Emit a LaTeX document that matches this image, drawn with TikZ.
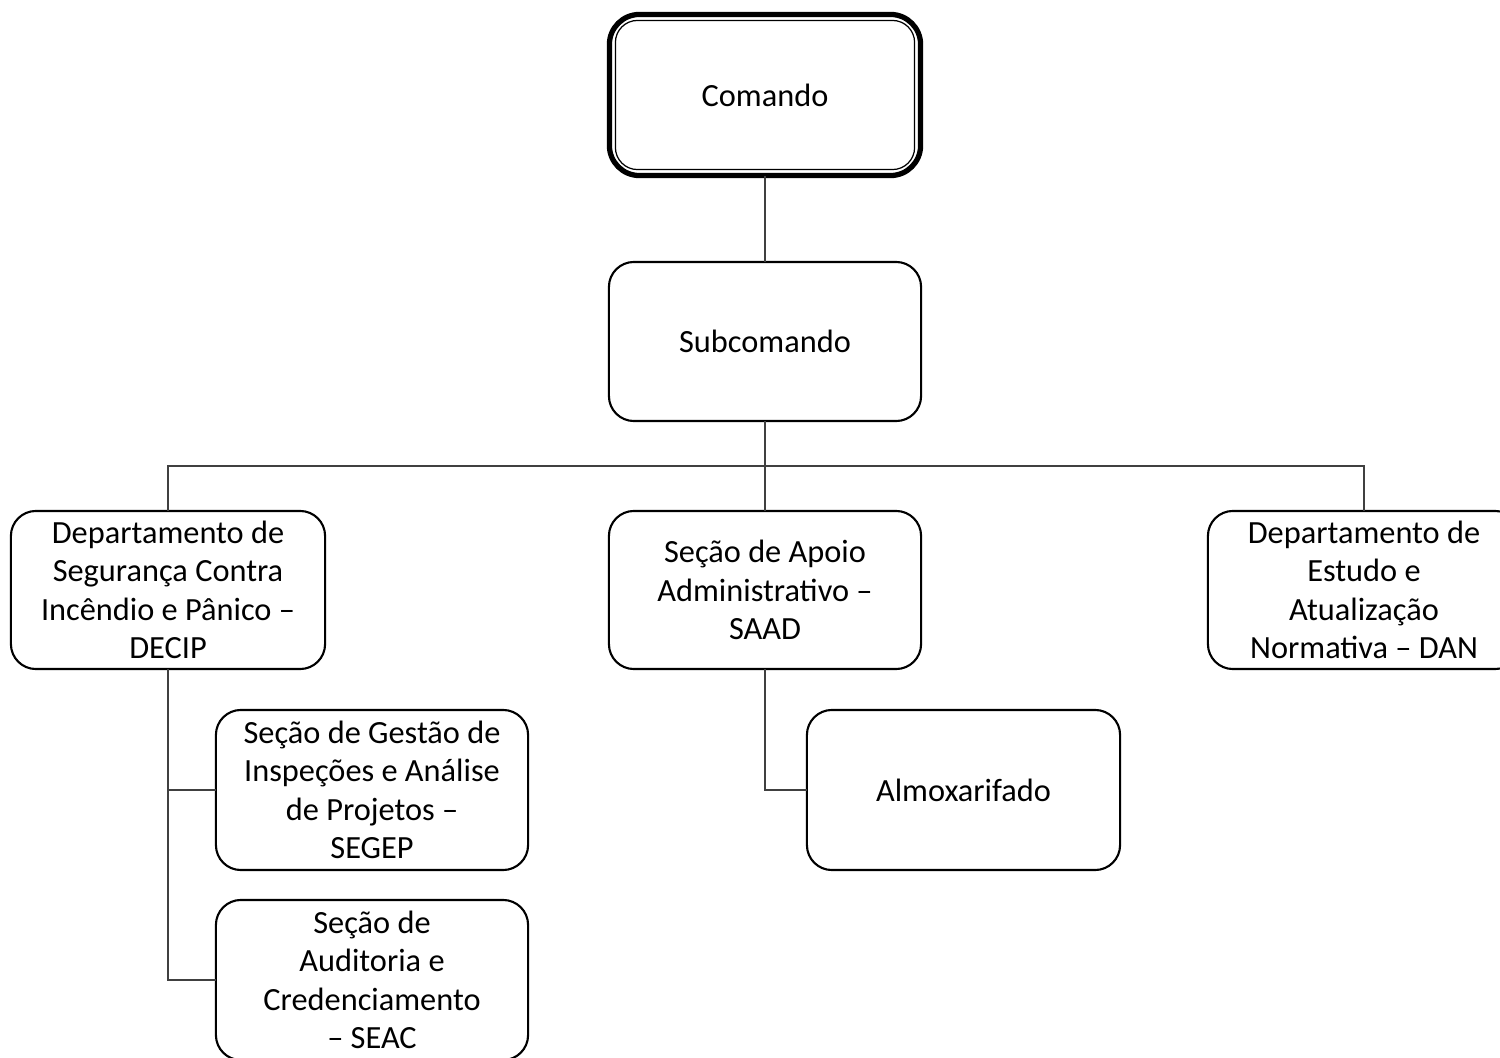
\documentclass[tikz,border=0pt]{standalone}
\usepackage{fontspec}
\setmainfont{Carlito}
\begin{document}
\begin{tikzpicture}[x=0.01cm,y=-0.01cm,
  box/.style={draw, line width=0.6pt, rounded corners=0.25cm, minimum width=3.12cm,
    minimum height=1.58cm, align=center, inner sep=0pt, outer sep=0pt,
    font=\fontsize{9.2}{10.9}\selectfont},
  link/.style={draw=black!75, line width=0.35pt}]
\useasboundingbox (0,0) rectangle (1500,1058);
\clip (0,0) rectangle (1500,1058);
\node[box, line width=1.5pt, minimum width=3.11cm, minimum height=1.61cm, rounded corners=0.3cm] (cmd) at (765,95) {Comando};
\draw[line width=0.35pt, rounded corners=0.22cm] ([shift={(6,6)}]cmd.north west) rectangle ([shift={(-6,-6)}]cmd.south east);
\node[box, minimum height=1.59cm] (sub) at (765,341.5) {Subcomando};
\node[box, minimum width=3.14cm] (decip) at (168,590) {Departamento de\\Segurança Contra\\Incêndio e Pânico –\\DECIP};
\node[box] (saad) at (765,590) {Seção de Apoio\\Administrativo –\\SAAD};
\node[box] (dan) at (1364,590) {Departamento de\\Estudo e\\Atualização\\Normativa – DAN};
\node[box, minimum height=1.6cm] (segep) at (372,790) {Seção de Gestão de\\Inspeções e Análise\\de Projetos –\\SEGEP};
\node[box, minimum height=1.6cm] (seac) at (372,980) {Seção de\\Auditoria e\\Credenciamento\\– SEAC};
\node[box, minimum width=3.13cm, minimum height=1.6cm] (almox) at (963.5,790) {Almoxarifado};
\coordinate (bus) at (765,466);
\draw[link] (cmd.south) -- (sub.north);
\draw[link] (sub.south) -- (saad.north);
\draw[link] (decip.north) |- (bus) -| (dan.north);
\draw[link] (decip.south) |- (segep.west);
\draw[link] (decip.south) |- (seac.west);
\draw[link] (saad.south) |- (almox.west);
\end{tikzpicture}
\end{document}
